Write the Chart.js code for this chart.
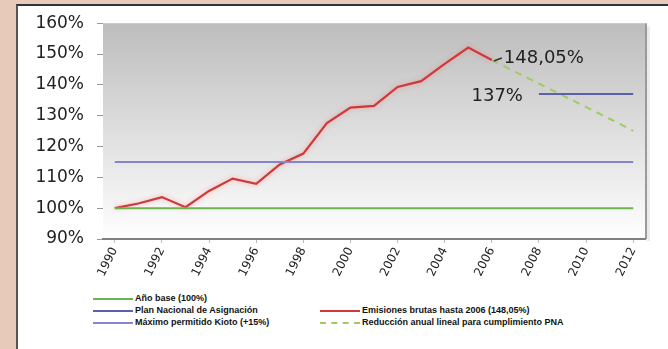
<!DOCTYPE html>
<html>
<head>
<meta charset="utf-8">
<script src="https://cdn.jsdelivr.net/npm/chart.js@4"></script>
<style>
  body { margin: 0; width: 668px; height: 349px; background: #e8cabb; position: relative; overflow: hidden; font-family: "Liberation Sans", Arial, sans-serif; }
  #frame { position: absolute; left: 16px; top: 4px; right: 0; bottom: 0; background: #fff; border-left: 2px solid #555; border-top: 2px solid #333; }
  #chart { position: absolute; left: 0; top: 0; }
  .key { position: absolute; font-size: 9px; font-weight: bold; color: #111; white-space: nowrap; line-height: 10px; }
  .key i { display: inline-block; width: 40px; height: 0; border-top: 2px solid; vertical-align: middle; margin-right: 2px; }
</style>
</head>
<body>
<div id="frame"></div>
<canvas id="chart" width="668" height="290"></canvas>
<div id="legend"></div>

<script>
const years = [1990, 1991, 1992, 1993, 1994, 1995, 1996, 1997, 1998, 1999, 2000, 2001,
               2002, 2003, 2004, 2005, 2006, 2007, 2008, 2009, 2010, 2011, 2012];
const tickYears = [1990, 1992, 1994, 1996, 1998, 2000, 2002, 2004, 2006, 2008, 2010, 2012];

const anoBase  = [100, 100, 100, 100, 100, 100, 100, 100, 100, 100, 100, 100,
                  100, 100, 100, 100, 100, 100, 100, 100, 100, 100, 100];
const kioto    = [115, 115, 115, 115, 115, 115, 115, 115, 115, 115, 115, 115,
                  115, 115, 115, 115, 115, 115, 115, 115, 115, 115, 115];
const pna      = [null, null, null, null, null, null, null, null, null, null, null, null,
                  null, null, null, null, null, null, 137, 137, 137, 137, 137];
const emisiones = [100, 101.5, 103.6, 100.3, 105.6, 109.6, 107.9, 114.2, 117.7, 127.6, 132.6, 133.2,
                   139.3, 141.2, 146.8, 152.1, 148.05];
const reduccion = [null, null, null, null, null, null, null, null, null, null, null, null,
                   null, null, null, null, 148.05, 144.2, 140.4, 136.6, 132.8, 129.0, 125.1];

const names = {
  base: 'Año base (100%)',
  pna: 'Plan Nacional de Asignación',
  kioto: 'Máximo permitido Kioto (+15%)',
  emis: 'Emisiones brutas hasta 2006 (148,05%)',
  red: 'Reducción anual lineal para cumplimiento PNA'
};

const colors = {
  base: '#6cb44e',
  kioto: '#8585cf',
  pna: '#5a62b0',
  emis: '#cc3a3a',
  red: '#9ccc62'
};

// grey-to-white plot background with a shadowed right edge
const plotBg = {
  id: 'plotBg',
  beforeDraw(chart) {
    const { ctx, chartArea: a } = chart;
    const g = ctx.createLinearGradient(0, a.top, 0, a.bottom);
    g.addColorStop(0, '#bdbdbd');
    g.addColorStop(1, '#ffffff');
    ctx.save();
    ctx.fillStyle = g;
    ctx.fillRect(a.left, a.top, a.right - a.left, a.bottom - a.top);
    ctx.strokeStyle = '#9a9a9a';
    ctx.lineWidth = 2;
    ctx.beginPath();
    ctx.moveTo(a.right + 1, a.top);
    ctx.lineTo(a.right + 1, a.bottom);
    ctx.stroke();
    ctx.strokeStyle = 'rgba(0,0,0,0.08)';
    ctx.lineWidth = 3;
    ctx.beginPath();
    ctx.moveTo(a.right + 3.5, a.top + 3);
    ctx.lineTo(a.right + 3.5, a.bottom + 2);
    ctx.stroke();
    ctx.restore();
  }
};

// soft halo under the emissions line
const glow = {
  id: 'glow',
  beforeDatasetDraw(chart, args) {
    if (args.index !== 3) return;
    chart.ctx.save();
    chart.ctx.shadowColor = 'rgba(255,110,110,0.55)';
    chart.ctx.shadowBlur = 5;
  },
  afterDatasetDraw(chart, args) {
    if (args.index !== 3) return;
    chart.ctx.restore();
  }
};

const fmt = v => v.toFixed(2).replace('.', ',');

const endLabels = {
  id: 'endLabels',
  afterDatasetsDraw(chart) {
    const { ctx, scales: { x, y } } = chart;
    ctx.save();
    ctx.font = '18px "DejaVu Sans"';
    ctx.fillStyle = '#222';
    ctx.textBaseline = 'middle';

    const i = emisiones.length - 1;
    const px = x.getPixelForValue(i);
    const py = y.getPixelForValue(emisiones[i]);
    ctx.strokeStyle = '#333';
    ctx.lineWidth = 1.5;
    ctx.beginPath();
    ctx.moveTo(px + 2, py + 1);
    ctx.lineTo(px + 10, py - 2);
    ctx.stroke();
    ctx.textAlign = 'left';
    ctx.fillText(fmt(emisiones[i]) + '%', px + 12, py - 2);

    const j = pna.findIndex(v => v !== null);
    ctx.textAlign = 'right';
    ctx.fillText(pna[j] + '%', x.getPixelForValue(j) - 16, y.getPixelForValue(pna[j]) + 2);
    ctx.restore();
  }
};

const line = (label, data, color, extra) => Object.assign({
  label, data,
  borderColor: color,
  borderWidth: 2,
  pointRadius: 0,
  fill: false,
  tension: 0,
  spanGaps: false
}, extra || {});

new Chart(document.getElementById('chart'), {
  type: 'line',
  data: {
    labels: years,
    datasets: [
      line(names.base, anoBase, colors.base),
      line(names.kioto, kioto, colors.kioto),
      line(names.pna, pna, colors.pna),
      line(names.emis, emisiones, colors.emis, { borderWidth: 2.2 }),
      line(names.red, reduccion, colors.red, { borderDash: [7, 6] })
    ]
  },
  options: {
    responsive: false,
    animation: false,
    devicePixelRatio: 1,
    layout: { padding: { left: 0, right: 23, top: 18, bottom: 0 } },
    plugins: { legend: { display: false }, tooltip: { enabled: false } },
    scales: {
      x: {
        offset: true,
        afterFit: s => { s.height = 51; },
        grid: { drawOnChartArea: false, tickLength: 4, color: '#bbb' },
        border: { display: true, color: '#808080', width: 2 },
        ticks: {
          autoSkip: false,
          maxRotation: 63,
          minRotation: 63,
          padding: 2,
          color: '#222',
          font: { family: 'DejaVu Sans', size: 12 },
          callback: (v, i) => tickYears.includes(years[i]) ? String(years[i]) : null
        }
      },
      y: {
        min: 90,
        max: 160,
        afterFit: s => { s.width = 103; },
        grid: { drawOnChartArea: false, tickLength: 6, color: '#999' },
        border: { display: false },
        ticks: {
          stepSize: 10,
          padding: 13,
          color: '#222',
          font: { family: 'DejaVu Sans', size: 17 },
          callback: v => v + '%'
        }
      }
    }
  },
  plugins: [plotBg, glow, endLabels]
});

// two-column key under the axis
const keys = [
  { text: names.base, color: colors.base, x: 93, y: 293 },
  { text: names.pna, color: colors.pna, x: 93, y: 305 },
  { text: names.kioto, color: colors.kioto, x: 93, y: 317 },
  { text: names.emis, color: colors.emis, x: 320, y: 305 },
  { text: names.red, color: colors.red, x: 320, y: 317, dashed: true }
];
const legend = document.getElementById('legend');
keys.forEach(k => {
  const d = document.createElement('div');
  d.className = 'key';
  d.style.left = k.x + 'px';
  d.style.top = k.y + 'px';
  d.innerHTML = `<i style="border-top:2px ${k.dashed ? 'dashed' : 'solid'} ${k.color}"></i>${k.text}`;
  legend.appendChild(d);
});
</script>
</body>
</html>
